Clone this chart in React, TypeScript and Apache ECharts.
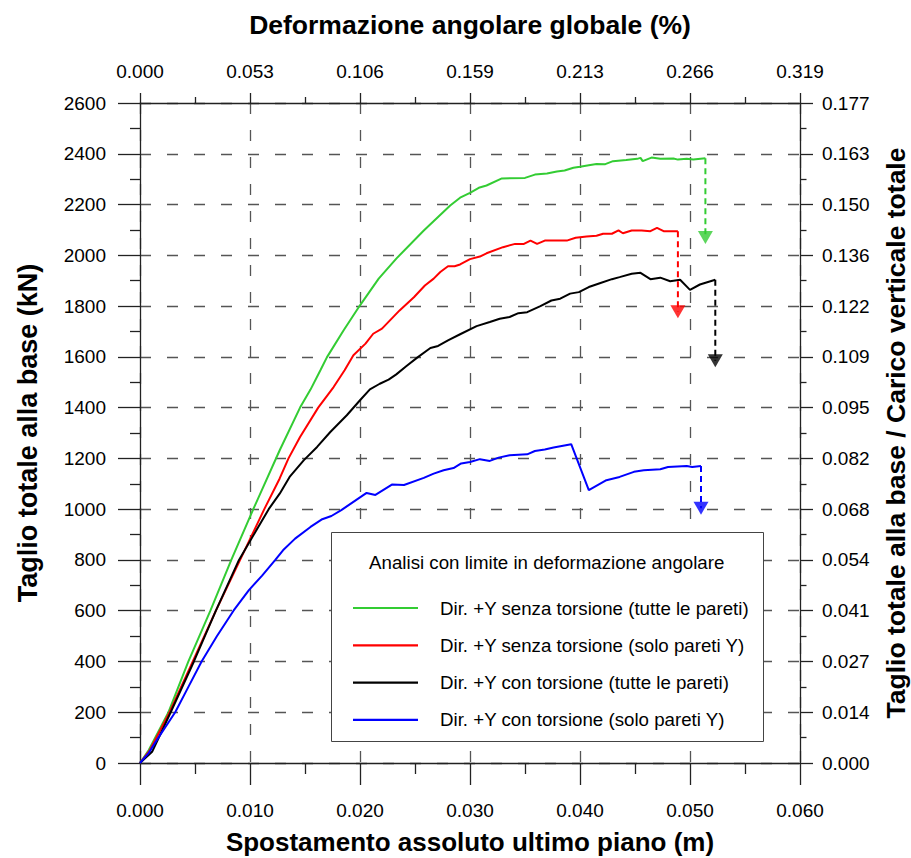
import React, { useEffect, useRef } from 'react';
import * as echarts from 'echarts';

const FONT = "'Liberation Sans', Arial, Helvetica, sans-serif";

const seriesNames = [
  'Dir. +Y senza torsione (tutte le pareti)',
  'Dir. +Y senza torsione (solo pareti Y)',
  'Dir. +Y con torsione (tutte le pareti)',
  'Dir. +Y con torsione (solo pareti Y)',
];
const seriesColors = ['#33cc33', '#ff0000', '#000000', '#0000ff'];

const greenData = [
  [0, 0], [0.0008, 51], [0.0026, 201], [0.0044, 400], [0.0064, 600], [0.0083, 800],
  [0.0103, 1000], [0.0127, 1232], [0.01455, 1400], [0.0155, 1471], [0.0164, 1547],
  [0.017, 1599], [0.0185, 1704], [0.02, 1803], [0.0217, 1908], [0.0233, 1987],
  [0.0258, 2098], [0.0282, 2196], [0.0291, 2227], [0.03, 2246], [0.0308, 2266],
  [0.0315, 2275], [0.0329, 2303], [0.035, 2305], [0.0359, 2318], [0.037, 2322],
  [0.0379, 2330], [0.0386, 2334], [0.0394, 2345], [0.04, 2349], [0.0408, 2355],
  [0.0415, 2360], [0.0423, 2359], [0.043, 2371], [0.0442, 2375], [0.0452, 2380],
  [0.0455, 2384], [0.0457, 2371], [0.0465, 2385], [0.0473, 2380], [0.0485, 2381],
  [0.0489, 2377], [0.0497, 2380], [0.0503, 2377], [0.0514, 2382],
];

const redData = [
  [0, 0], [0.0009, 51], [0.0027, 201], [0.0048, 400], [0.0069, 600], [0.0091, 800],
  [0.0113, 1000], [0.0127, 1121], [0.0135, 1200], [0.01455, 1284], [0.0162, 1400],
  [0.0176, 1481], [0.0186, 1547], [0.0194, 1606], [0.0205, 1652], [0.0212, 1691],
  [0.022, 1711], [0.0236, 1783], [0.0249, 1835], [0.0259, 1881], [0.0267, 1908],
  [0.0273, 1934], [0.028, 1957], [0.0286, 1957], [0.0291, 1964], [0.03, 1985],
  [0.0309, 1995], [0.0315, 2008], [0.033, 2032], [0.0341, 2045], [0.0349, 2045],
  [0.0355, 2058], [0.0361, 2045], [0.0368, 2058], [0.0388, 2058], [0.0396, 2069],
  [0.0406, 2074], [0.0415, 2077], [0.0421, 2085], [0.0429, 2085], [0.0435, 2098],
  [0.0439, 2087], [0.0447, 2098], [0.0456, 2098], [0.0464, 2095], [0.047, 2108],
  [0.0476, 2095], [0.0489, 2095],
];

const blackData = [
  [0, 0], [0.0011, 44], [0.0028, 201], [0.0049, 400], [0.0069, 600], [0.009, 800],
  [0.0117, 1000], [0.0127, 1061], [0.0136, 1127], [0.0149, 1193], [0.0161, 1245],
  [0.0173, 1304], [0.0188, 1370], [0.02, 1429], [0.0209, 1472], [0.0218, 1494],
  [0.0226, 1510], [0.0233, 1531], [0.0242, 1563], [0.0252, 1597], [0.0264, 1635],
  [0.0271, 1643], [0.028, 1665], [0.0291, 1689], [0.0306, 1721], [0.0318, 1737],
  [0.0327, 1750], [0.0336, 1757], [0.0344, 1772], [0.0352, 1776], [0.0364, 1800],
  [0.0374, 1822], [0.0382, 1829], [0.0391, 1849], [0.0399, 1855], [0.0408, 1875],
  [0.0418, 1890], [0.0429, 1906], [0.0436, 1914], [0.0447, 1927], [0.0455, 1931],
  [0.0464, 1906], [0.0473, 1912], [0.0482, 1898], [0.0491, 1904], [0.05, 1864],
  [0.0509, 1885], [0.0523, 1904],
];

const blueData = [
  [0, 0], [0.0008, 40], [0.0016, 95], [0.0032, 200], [0.0044, 300], [0.0056, 400],
  [0.007, 500], [0.0085, 600], [0.0099, 681], [0.0111, 738], [0.0123, 800],
  [0.013, 838], [0.0141, 884], [0.0155, 930], [0.0165, 959], [0.0174, 973],
  [0.0183, 996], [0.0206, 1064], [0.0214, 1056], [0.0229, 1097], [0.024, 1095],
  [0.0258, 1123], [0.0267, 1140], [0.0276, 1153], [0.0285, 1162], [0.0292, 1180],
  [0.03, 1186], [0.0309, 1197], [0.0318, 1190], [0.0326, 1203], [0.0336, 1212],
  [0.0352, 1216], [0.0359, 1229], [0.0368, 1235], [0.0376, 1243], [0.0392, 1256],
  [0.0408, 1075], [0.0424, 1114], [0.0436, 1127], [0.0449, 1147], [0.0458, 1153],
  [0.0473, 1157], [0.048, 1166], [0.0497, 1170], [0.0502, 1166], [0.051, 1170],
];

const curveData = [greenData, redData, blackData, blueData];

// drop arrows at the end of each curve: x, start value, triangle centre value
const arrowX = [0.0514, 0.0489, 0.0523, 0.051];
const arrowStart = [2382, 2095, 1904, 1170];
const arrowEnd = [2070, 1778, 1585, 1004];

const topTickLabels = ['0.000', '0.053', '0.106', '0.159', '0.213', '0.266', '0.319'];
const rightTickLabels = [
  '0.000', '0.014', '0.027', '0.041', '0.054', '0.068', '0.082',
  '0.095', '0.109', '0.122', '0.136', '0.150', '0.163', '0.177',
];

const legendTitle = 'Analisi con limite in deformazione angolare';

export default function App() {
  const ref = useRef<HTMLDivElement>(null);

  useEffect(() => {
    if (!ref.current) return;
    const chart = echarts.init(ref.current, null, { renderer: 'svg' });

    const axisLineStyle = { color: '#222', width: 1.3 };
    const labelStyle = { fontSize: 19, color: '#000', fontFamily: FONT };
    const nameStyle = (size: number) => ({
      fontSize: size,
      fontWeight: 'bold' as const,
      color: '#000',
      fontFamily: FONT,
      lineHeight: 24,
    });
    const gridLine = { show: true, lineStyle: { color: '#555', width: 1.3, type: [11, 16] } };

    const series: any[] = [];
    curveData.forEach((d, i) => {
      series.push({
        type: 'line',
        name: seriesNames[i],
        data: d,
        symbol: 'none',
        lineStyle: { color: seriesColors[i], width: 2 },
        itemStyle: { color: seriesColors[i] },
        z: 3,
      });
    });
    arrowX.forEach((x, i) => {
      series.push({
        type: 'line',
        name: 'arrow' + i,
        data: [[x, arrowStart[i]], [x, arrowEnd[i]]],
        symbol: 'none',
        lineStyle: { color: seriesColors[i], width: 2, type: [6, 4] },
        z: 3,
        silent: true,
      });
      series.push({
        type: 'scatter',
        name: 'tip' + i,
        data: [[x, arrowEnd[i]]],
        symbol: 'triangle',
        symbolRotate: 180,
        symbolSize: [15, 13],
        itemStyle: { color: seriesColors[i] },
        z: 4,
        silent: true,
      });
    });

    chart.setOption({
      animation: false,
      backgroundColor: '#fff',
      grid: { left: 140, right: 111, top: 103, bottom: 95, outerBoundsMode: 'none', containLabel: false },
      xAxis: [
        {
          type: 'value',
          position: 'bottom',
          min: 0,
          max: 0.06,
          interval: 0.01,
          axisLine: { show: true, onZero: false, lineStyle: axisLineStyle },
          axisTick: { show: true, length: 22, lineStyle: axisLineStyle },
          minorTick: { show: true, splitNumber: 2, length: 11, lineStyle: axisLineStyle },
          axisLabel: { ...labelStyle, margin: 38, formatter: (v: number) => v.toFixed(3) },
          splitLine: gridLine,
          name: 'Spostamento assoluto ultimo piano (m)',
          nameLocation: 'middle',
          nameGap: 67,
          nameTextStyle: nameStyle(26),
        },
        {
          type: 'value',
          position: 'top',
          min: 0,
          max: 0.06,
          interval: 0.01,
          axisLine: { show: true, onZero: false, lineStyle: axisLineStyle },
          axisTick: { show: true, length: 10, lineStyle: axisLineStyle },
          minorTick: { show: true, splitNumber: 2, length: 6, lineStyle: axisLineStyle },
          axisLabel: {
            ...labelStyle,
            margin: 22,
            formatter: (v: number) => topTickLabels[Math.round(v / 0.01)] ?? '',
          },
          splitLine: { show: false },
          name: 'Deformazione angolare globale (%)',
          nameLocation: 'middle',
          nameGap: 66,
          nameTextStyle: nameStyle(26.5),
        },
      ],
      yAxis: [
        {
          type: 'value',
          position: 'left',
          min: 0,
          max: 2600,
          interval: 200,
          axisLine: { show: true, onZero: false, lineStyle: axisLineStyle },
          axisTick: { show: true, length: 22, lineStyle: axisLineStyle },
          minorTick: { show: true, splitNumber: 2, length: 10, lineStyle: axisLineStyle },
          axisLabel: { ...labelStyle, margin: 34, formatter: (v: number) => String(v) },
          splitLine: gridLine,
          name: 'Taglio totale alla base (kN)',
          nameLocation: 'middle',
          nameGap: 100,
          nameRotate: 90,
          nameTextStyle: nameStyle(27),
        },
        {
          type: 'value',
          position: 'right',
          min: 0,
          max: 2600,
          interval: 200,
          axisLine: { show: true, onZero: false, lineStyle: axisLineStyle },
          axisTick: { show: true, length: 13, lineStyle: axisLineStyle },
          minorTick: { show: true, splitNumber: 2, length: 6.5, lineStyle: axisLineStyle },
          axisLabel: {
            ...labelStyle,
            margin: 22,
            formatter: (v: number) => rightTickLabels[Math.round(v / 200)] ?? '',
          },
          splitLine: { show: false },
          name: 'Taglio totale alla base / Carico verticale totale',
          nameLocation: 'middle',
          nameGap: 84,
          nameRotate: 90,
          nameTextStyle: nameStyle(26.5),
        },
      ],
      legend: {
        data: seriesNames,
        orient: 'vertical',
        left: 348,
        top: 592,
        icon: 'rect',
        itemWidth: 65,
        itemHeight: 2.2,
        itemGap: 15.3,
        selectedMode: false,
        z: 10,
        textStyle: {
          fontSize: 18.7,
          color: '#000',
          fontFamily: FONT,
          lineHeight: 22,
          padding: [0, 0, 0, 17],
        },
      },
      graphic: [
        {
          type: 'rect',
          z: 5,
          shape: { x: 331.5, y: 532.5, width: 432, height: 209 },
          style: { fill: '#fff', stroke: '#444', lineWidth: 1 },
        },
        {
          type: 'text',
          z: 6,
          x: 546.7,
          y: 562.7,
          style: {
            text: legendTitle,
            align: 'center',
            verticalAlign: 'middle',
            fontSize: 18.7,
            fontFamily: FONT,
            fill: '#000',
          },
        },
      ],
      series,
    });

    return () => chart.dispose();
  }, []);

  return (
    <div
      ref={ref}
      style={{ position: 'fixed', left: 0, top: 0, width: 911, height: 858, background: '#fff' }}
    />
  );
}
